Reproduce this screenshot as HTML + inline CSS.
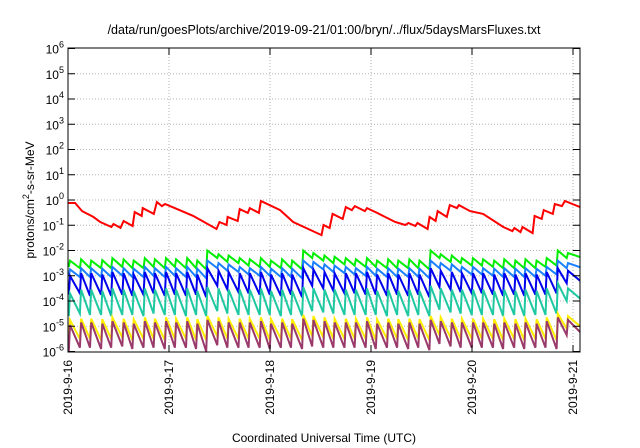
<!DOCTYPE html>
<html><head><meta charset="utf-8"><style>
body{margin:0;background:#fff;}
svg{display:block;font-family:"Liberation Sans",sans-serif;}
</style></head><body>
<svg id="chart" width="640" height="448" viewBox="0 0 640 448" xmlns="http://www.w3.org/2000/svg">
<defs><clipPath id="clip"><rect x="68" y="48" width="512" height="304"/></clipPath></defs>
<text x="324" y="34" font-size="12.5" text-anchor="middle">/data/run/goesPlots/archive/2019-09-21/01:00/bryn/../flux/5daysMarsFluxes.txt</text>
<g id="grid"></g>
<g id="series" clip-path="url(#clip)"></g>
<rect x="68" y="48" width="512" height="304" fill="none" stroke="#000" stroke-width="1"/>
<g id="axes"></g>
<text transform="translate(34,200) rotate(-90)" font-size="12" text-anchor="middle">protons/cm<tspan dy="-5" font-size="9">2</tspan><tspan dy="5">-s-sr-MeV</tspan></text>
<text x="324" y="442" font-size="12" text-anchor="middle">Coordinated Universal Time (UTC)</text>
</svg>
<script>
const dayLabels = ["2019-9-16","2019-9-17","2019-9-18","2019-9-19","2019-9-20","2019-9-21"];
const decadeExps = [-6,-5,-4,-3,-2,-1,0,1,2,3,4,5,6];
const toothTimes = [0.02,0.13,0.23,0.34,0.44,0.55,0.65,0.76,0.86,0.97,1.07,1.18,1.28,1.38,1.49,1.59,1.70,1.80,1.91,2.01,2.12,2.22,2.33,2.43,2.54,2.64,2.75,2.85,2.96,3.06,3.17,3.27,3.38,3.48,3.59,3.69,3.80,3.90,4.01,4.11,4.22,4.32,4.43,4.53,4.64,4.74,4.85,4.95];
const redTimes = [0,0.07,0.14,0.25,0.32,0.43,0.45,0.52,0.55,0.64,0.66,0.73,0.74,0.85,0.88,0.93,0.96,1.08,1.24,1.47,1.5,1.57,1.58,1.68,1.7,1.78,1.8,1.89,1.91,2.1,2.23,2.51,2.53,2.59,2.62,2.72,2.75,2.81,2.84,2.94,2.96,3.06,3.24,3.34,3.37,3.44,3.46,3.56,3.58,3.64,3.66,3.75,3.78,3.85,3.87,3.98,4.11,4.31,4.4,4.42,4.48,4.5,4.6,4.62,4.69,4.71,4.8,4.82,4.89,4.92,5.07];
const redLog = [-0.12,-0.12,-0.44,-0.67,-0.87,-1.07,-0.95,-1.1,-0.83,-1.03,-0.48,-0.63,-0.32,-0.55,-0.08,-0.24,-0.16,-0.36,-0.63,-1.15,-0.87,-0.99,-0.67,-0.83,-0.36,-0.51,-0.32,-0.51,-0.04,-0.4,-0.87,-1.39,-0.99,-1.11,-0.55,-0.75,-0.28,-0.4,-0.24,-0.44,-0.32,-0.51,-0.87,-0.99,-0.91,-1.03,-0.91,-1.15,-0.67,-0.83,-0.44,-0.67,-0.2,-0.32,-0.2,-0.44,-0.55,-1.07,-1.23,-1.11,-1.27,-1.07,-1.31,-0.63,-0.75,-0.4,-0.55,-0.16,-0.24,-0.04,-0.28];
const greenPeaks = [-2.4,-2.35,-2.4,-2.38,-2.3,-2.35,-2.4,-2.3,-2.35,-2.3,-2.35,-2.3,-2.4,-2.0,-2.15,-2.2,-2.3,-2.35,-2.3,-2.4,-2.35,-2.4,-2.0,-2.1,-2.2,-2.25,-2.3,-2.35,-2.3,-2.4,-2.35,-2.4,-2.35,-2.4,-2.0,-2.15,-2.2,-2.3,-2.3,-2.35,-2.4,-2.35,-2.4,-2.35,-2.4,-2.3,-2.0,-2.1];
const greenTroughs = [-2.65,-2.7,-2.7,-2.7,-2.7,-2.65,-2.7,-2.7,-2.65,-2.7,-2.65,-2.7,-2.7,-2.75,-2.3,-2.45,-2.5,-2.6,-2.65,-2.65,-2.7,-2.7,-2.75,-2.3,-2.4,-2.5,-2.55,-2.6,-2.65,-2.65,-2.7,-2.7,-2.7,-2.7,-2.75,-2.3,-2.45,-2.5,-2.6,-2.6,-2.65,-2.7,-2.7,-2.7,-2.7,-2.65,-2.6,-2.3];
const lblPeaks = [-2.75,-2.7,-2.7,-2.72,-2.65,-2.7,-2.72,-2.65,-2.7,-2.65,-2.7,-2.65,-2.72,-2.4,-2.5,-2.55,-2.65,-2.7,-2.65,-2.72,-2.7,-2.72,-2.4,-2.45,-2.55,-2.6,-2.65,-2.7,-2.65,-2.72,-2.7,-2.72,-2.7,-2.72,-2.4,-2.5,-2.55,-2.65,-2.65,-2.7,-2.72,-2.7,-2.72,-2.7,-2.72,-2.65,-2.4,-2.5];
const lblTroughs = [-3.0,-3.05,-3.05,-3.05,-3.05,-3.0,-3.05,-3.05,-3.0,-3.05,-3.0,-3.05,-3.05,-3.1,-2.7,-2.8,-2.85,-2.95,-3.0,-3.0,-3.05,-3.05,-3.1,-2.7,-2.75,-2.85,-2.9,-2.95,-3.0,-3.0,-3.05,-3.05,-3.05,-3.05,-3.1,-2.7,-2.8,-2.85,-2.95,-2.95,-3.0,-3.05,-3.05,-3.05,-3.05,-3.0,-2.95,-2.7];
const bluePeaks = [-3.0,-2.9,-2.9,-2.95,-2.85,-2.9,-2.95,-2.85,-2.9,-2.85,-2.9,-2.85,-2.95,-2.7,-2.8,-2.85,-2.9,-2.9,-2.85,-2.95,-2.9,-2.95,-2.7,-2.75,-2.85,-2.9,-2.9,-2.9,-2.85,-2.95,-2.9,-2.95,-2.9,-2.95,-2.7,-2.8,-2.85,-2.9,-2.9,-2.9,-2.95,-2.9,-2.95,-2.9,-2.95,-2.85,-2.7,-2.8];
const blueTroughs = [-3.75,-3.7,-3.8,-3.75,-3.8,-3.75,-3.8,-3.75,-3.7,-3.8,-3.75,-3.8,-3.75,-3.85,-3.4,-3.55,-3.65,-3.7,-3.75,-3.75,-3.8,-3.75,-3.85,-3.4,-3.5,-3.6,-3.7,-3.7,-3.75,-3.75,-3.8,-3.75,-3.8,-3.75,-3.85,-3.45,-3.55,-3.65,-3.7,-3.7,-3.75,-3.8,-3.75,-3.8,-3.75,-3.75,-3.7,-3.3];
const tealPeaks = [-3.7,-3.55,-3.55,-3.6,-3.5,-3.55,-3.6,-3.5,-3.55,-3.5,-3.55,-3.5,-3.6,-3.45,-3.5,-3.55,-3.55,-3.55,-3.5,-3.6,-3.55,-3.6,-3.45,-3.5,-3.55,-3.55,-3.55,-3.55,-3.5,-3.6,-3.55,-3.6,-3.55,-3.6,-3.4,-3.5,-3.55,-3.55,-3.55,-3.55,-3.6,-3.55,-3.6,-3.55,-3.6,-3.5,-3.3,-3.5];
const tealTroughs = [-4.6,-4.5,-4.55,-4.55,-4.6,-4.55,-4.55,-4.6,-4.5,-4.55,-4.55,-4.6,-4.55,-4.6,-4.4,-4.5,-4.55,-4.55,-4.55,-4.55,-4.6,-4.55,-4.6,-4.4,-4.45,-4.5,-4.55,-4.55,-4.55,-4.55,-4.6,-4.55,-4.6,-4.55,-4.6,-4.35,-4.45,-4.5,-4.55,-4.55,-4.55,-4.6,-4.55,-4.6,-4.55,-4.55,-4.5,-4.0];
const yellowPeaks = [-4.75,-4.7,-4.7,-4.72,-4.65,-4.7,-4.72,-4.65,-4.7,-4.65,-4.7,-4.65,-4.72,-4.6,-4.65,-4.7,-4.7,-4.7,-4.65,-4.72,-4.7,-4.72,-4.55,-4.6,-4.65,-4.7,-4.7,-4.7,-4.65,-4.72,-4.7,-4.72,-4.7,-4.72,-4.6,-4.65,-4.7,-4.7,-4.7,-4.7,-4.72,-4.7,-4.72,-4.7,-4.72,-4.65,-4.5,-4.6];
const yellowTroughs = [-5.6,-5.5,-5.5,-5.55,-5.5,-5.45,-5.55,-5.5,-5.5,-5.55,-5.5,-5.5,-5.55,-5.55,-5.4,-5.5,-5.5,-5.5,-5.5,-5.55,-5.5,-5.5,-5.55,-5.4,-5.45,-5.5,-5.5,-5.5,-5.5,-5.55,-5.5,-5.5,-5.55,-5.5,-5.55,-5.35,-5.45,-5.5,-5.5,-5.5,-5.5,-5.55,-5.5,-5.55,-5.5,-5.5,-5.55,-5.1];
const purplePeaks = [-4.95,-4.85,-4.85,-4.9,-4.8,-4.85,-4.9,-4.8,-4.85,-4.8,-4.85,-4.8,-4.9,-4.75,-4.8,-4.85,-4.85,-4.85,-4.8,-4.9,-4.85,-4.9,-4.7,-4.75,-4.8,-4.85,-4.85,-4.85,-4.8,-4.9,-4.85,-4.9,-4.85,-4.9,-4.75,-4.8,-4.85,-4.85,-4.85,-4.85,-4.9,-4.85,-4.9,-4.85,-4.9,-4.8,-4.65,-4.75];
const purpleTroughs = [-6.0,-5.85,-5.85,-5.9,-5.85,-5.8,-5.9,-5.85,-5.85,-5.9,-5.85,-5.85,-5.9,-6.0,-5.75,-5.85,-5.85,-5.85,-5.85,-5.9,-5.85,-5.85,-5.9,-5.8,-5.85,-5.85,-5.85,-5.85,-5.85,-5.9,-5.85,-5.85,-5.9,-5.85,-5.95,-5.7,-5.8,-5.85,-5.85,-5.85,-5.85,-5.9,-5.85,-5.9,-5.85,-5.85,-5.9,-5.35];

const X0=68, PXDAY=101, Y0=200, PXDEC=25.25;
const xs = d => X0 + d*PXDAY;
const ys = l => Y0 - l*PXDEC;
const NS="http://www.w3.org/2000/svg";
const grid=document.getElementById('grid'), axes=document.getElementById('axes'), series=document.getElementById('series');
function mk(tag, attrs, parent){const e=document.createElementNS(NS,tag);for(const k in attrs)e.setAttribute(k,attrs[k]);parent.appendChild(e);return e;}

decadeExps.forEach(e=>{
  const y=ys(e);
  if(e>-6&&e<6){const g=mk('line',{x1:68,x2:580,y1:y,y2:y,stroke:'#b0b0b0','stroke-width':1,'stroke-dasharray':'1,2'},grid);
  
  }
  const t1=mk('line',{x1:68,x2:75,y1:y,y2:y,stroke:'#000'},axes);
  
  
  const t2=mk('line',{x1:573,x2:580,y1:y,y2:y,stroke:'#000'},axes);
  
  
  const lab=mk('text',{x:64,y:y+5,'font-size':12,'text-anchor':'end'},axes);
  
  
  lab.innerHTML='10<tspan dy="-6" font-size="9">'+e+'</tspan>';
});

dayLabels.forEach((lbl,i)=>{
  const x=xs(i);
  if(i>0){const g=mk('line',{x1:x,x2:x,y1:48,y2:352,stroke:'#b0b0b0','stroke-width':1,'stroke-dasharray':'1,2'},grid);
  
  }
  const t1=mk('line',{x1:x,x2:x,y1:352,y2:345,stroke:'#000'},axes);
  
  
  const t2=mk('line',{x1:x,x2:x,y1:48,y2:55,stroke:'#000'},axes);
  
  
  const lab=mk('text',{transform:`translate(${x+4},360) rotate(-90)`,'font-size':12,'text-anchor':'end'},axes);
  
  
  lab.textContent=lbl;
});

function drawLine(pts,color,name){
  const d=pts.map((p,i)=>(i?'L':'M')+xs(p[0]).toFixed(1)+','+ys(p[1]).toFixed(1)).join('');
  const p=mk('path',{d:d,fill:'none',stroke:color,'stroke-width':2,'stroke-linejoin':'miter'},series);
  
  
}
drawLine(redTimes.map((t,i)=>[t,redLog[i]]),'#ff0000','series-red');
function saw(peaks,troughs,color,name){
  const pts=[];
  toothTimes.forEach((t,i)=>{pts.push([t-0.012,troughs[i]]);pts.push([t,peaks[i]]);});
  pts.push([5.1,troughs[troughs.length-1]]);
  drawLine(pts,color,name);
}
saw(greenPeaks,greenTroughs,'#00ee00','series-green');
saw(lblPeaks,lblTroughs,'#1a80ff','series-light-blue');
saw(bluePeaks,blueTroughs,'#0000ee','series-blue');
saw(tealPeaks,tealTroughs,'#1ec8a0','series-teal');
saw(yellowPeaks,yellowTroughs,'#ffee00','series-yellow');
saw(purplePeaks,purpleTroughs,'#9a3a6a','series-purple');
</script>
</body></html>
